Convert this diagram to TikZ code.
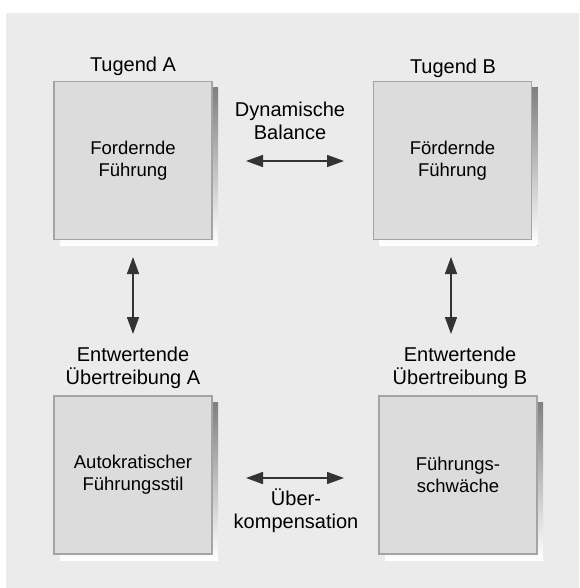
\documentclass[tikz,border=0pt]{standalone}
\usepackage{fontspec}
\setmainfont{Liberation Sans}
\usetikzlibrary{arrows.meta}
\definecolor{panel}{HTML}{EBEBEB}
\definecolor{boxfill}{HTML}{DCDCDC}
\definecolor{boxline}{HTML}{A4A4A4}
\definecolor{shade}{HTML}{ABABAB}
\definecolor{arrowcol}{HTML}{333333}
\begin{document}
\begin{tikzpicture}[x=1pt,y=-1pt,
  quad/.style={draw=boxline,line width=1.2pt,fill=boxfill,minimum width=158pt,minimum height=158pt,
    inner sep=0pt,align=center,font=\fontsize{18.5}{22}\selectfont},
  caption/.style={align=center,font=\fontsize{20}{23}\selectfont,inner sep=0pt},
  link/.style={draw=arrowcol,line width=1.6pt,{Triangle[length=17pt,width=12pt]}-{Triangle[length=17pt,width=12pt]},shorten <=1pt,shorten >=1pt}]
  \path[use as bounding box,fill=white] (0,0) rectangle (579,588);
  \fill[panel] (6,13) rectangle (579,588);
  % drop shadows, offset down and to the right
  \fill[shade] (60,87.5) rectangle (218,245.5);
  \fill[shade] (379.5,87.5) rectangle (537.5,245.5);
  \fill[shade] (60,402) rectangle (218,560);
  \fill[shade] (385,402) rectangle (543,560);
  % the four boxes
  \node[quad] (ta) at (133,160.5) {Fordernde\\Führung};
  \node[quad] (tb) at (452.5,160.5) {Fördernde\\Führung};
  \node[quad] (ua) at (133,475) {Autokratischer\\Führungsstil};
  \node[quad] (ub) at (458,475) {Führungs-\\schwäche};
  % headings above the boxes
  \node[caption,anchor=base] (la) at (133,72) {Tugend A};
  \node[caption,anchor=base] (lb) at (453,74) {Tugend B};
  \node[caption] (lua) at (133,368) {Entwertende\\Übertreibung A};
  \node[caption] (lub) at (460,368) {Entwertende\\Übertreibung B};
  % connector end points
  \coordinate (h1l) at (245,161);
  \coordinate (h1r) at (345,161);
  \coordinate (h2l) at (245,478);
  \coordinate (h2r) at (345,478);
  \coordinate (v1t) at (133,256);
  \coordinate (v1b) at (133,335);
  \coordinate (v2t) at (451,256);
  \coordinate (v2b) at (451,335);
  \draw[link] (h1l) -- (h1r);
  \draw[link] (h2l) -- (h2r);
  \draw[link] (v1t) -- (v1b);
  \draw[link] (v2t) -- (v2b);
  % connector labels
  \node[caption] (dyn) at (290,121) {Dynamische\\Balance};
  \node[caption] (komp) at (296,511) {Über-\\kompensation};
\end{tikzpicture}
\end{document}
